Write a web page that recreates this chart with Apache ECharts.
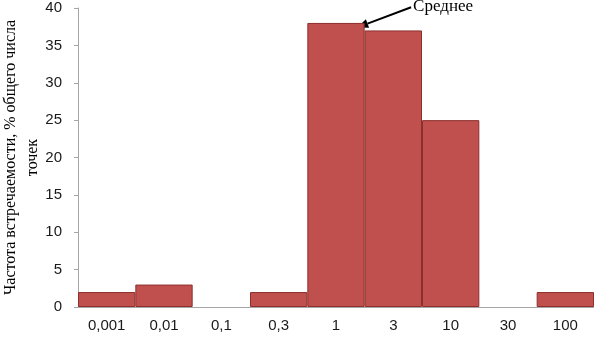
<!DOCTYPE html>
<html><head><meta charset="utf-8">
<script src="https://cdn.jsdelivr.net/npm/echarts@6/dist/echarts.min.js"></script>
<style>html,body{margin:0;padding:0;background:#fff}#c{width:594px;height:339px}</style>
</head><body><div id="c"></div>
<script>
const categories = ['0,001','0,01','0,1','0,3','1','3','10','30','100'];
const values = [2, 3, 0, 2, 38, 37, 25, 0, 2];
const yTicks = [0, 5, 10, 15, 20, 25, 30, 35, 40];
const yTitle = 'Частота встречаемости, % общего числа\nточек';
const noteText = 'Среднее';

const chart = echarts.init(document.getElementById('c'), null, {renderer:'canvas'});
chart.setOption({
  animation: false,
  grid: {left: 78, right: 0, top: 8, bottom: 32, containLabel: false, outerBoundsMode: 'none'},
  xAxis: {
    type: 'category', data: categories,
    axisLine: {lineStyle: {color: '#a6a6a6'}},
    axisTick: {show: false},
    axisLabel: {color: '#1a1a1a', fontFamily: 'Liberation Sans', fontSize: 15, margin: 11}
  },
  yAxis: {
    type: 'value', min: yTicks[0], max: yTicks[yTicks.length-1], interval: 5,
    splitLine: {show: false},
    axisLine: {show: true, lineStyle: {color: '#a6a6a6'}},
    axisTick: {show: true, length: 4, lineStyle: {color: '#a6a6a6'}},
    axisLabel: {color: '#1a1a1a', fontFamily: 'Liberation Sans', fontSize: 15, margin: 16},
    name: yTitle, nameLocation: 'middle', nameGap: 34, nameRotate: 90, nameMoveOverlap: false,
    nameTextStyle: {fontFamily: 'Liberation Serif', fontSize: 16, color: '#000', lineHeight: 22}
  },
  series: [{
    type: 'bar', barCategoryGap: 0, barGap: 0,
    data: values.map(v => v === 0 ? {value: v, itemStyle: {borderWidth: 0}} : v),
    itemStyle: {color: '#c0504d', borderColor: '#8c2f2d', borderWidth: 1}
  }]
});

function drawNote() {
  const band = chart.convertToPixel({seriesIndex:0}, [5, 0])[0] - chart.convertToPixel({seriesIndex:0}, [4, 0])[0];
  const head = chart.convertToPixel({seriesIndex:0}, [4, 37.4]);
  const tail = chart.convertToPixel({seriesIndex:0}, [5, 40.1]);
  const hx = head[0] + band*0.37, hy = head[1];
  const tx = tail[0] + band*0.31, ty = tail[1];
  const ang = Math.atan2(hy - ty, hx - tx);
  const L = 11, W = 4.5;
  const bx = hx - L*Math.cos(ang), by = hy - L*Math.sin(ang);
  const px = -Math.sin(ang), py = Math.cos(ang);
  chart.setOption({graphic: [
    {type:'line', shape:{x1:tx, y1:ty, x2:bx, y2:by}, style:{stroke:'#000', lineWidth:2}},
    {type:'polygon', shape:{points:[[hx,hy],[bx+px*W,by+py*W],[bx-px*W,by-py*W]]}, style:{fill:'#000'}},
    {type:'text', x: tx + 2, y: ty - 1, style:{text: noteText, font: '17px "Liberation Serif"', fill:'#000', textVerticalAlign:'middle', textAlign:'left'}}
  ]});
}
drawNote();
</script></body></html>
